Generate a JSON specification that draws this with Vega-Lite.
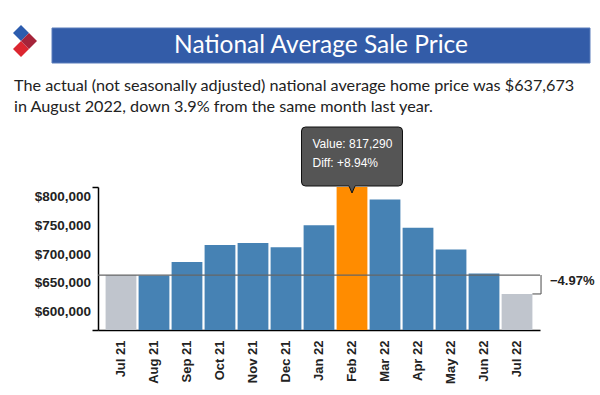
{
  "$schema": "https://vega.github.io/schema/vega-lite/v6.json",
  "width": 442,
  "height": 143,
  "autosize": {"type": "none"},
  "padding": {"left": 98, "top": 187, "right": 60, "bottom": 65},
  "background": "white",
  "config": {"view": {"stroke": null}, "axis": {"labelOverlap": false, "labelBound": false, "labelFlush": false}},
  "datasets": {
    "prices": [
      {"month": "Jul 21", "value": 663300},
      {"month": "Aug 21", "value": 662600},
      {"month": "Sep 21", "value": 686000},
      {"month": "Oct 21", "value": 716000},
      {"month": "Nov 21", "value": 719500},
      {"month": "Dec 21", "value": 712000},
      {"month": "Jan 22", "value": 750220},
      {"month": "Feb 22", "value": 817290},
      {"month": "Mar 22", "value": 795500},
      {"month": "Apr 22", "value": 746100},
      {"month": "May 22", "value": 707800},
      {"month": "Jun 22", "value": 666100},
      {"month": "Jul 22", "value": 630300}
    ],
    "change": [
      {"month": "Jul 22", "base": 663300, "value": 630300, "label": "−4.97%"}
    ],
    "highlight": [
      {"month": "Feb 22", "value": 817290, "line1": "Value: 817,290", "line2": "Diff: +8.94%"}
    ]
  },
  "layer": [
    {
      "data": {"values": [{}]},
      "mark": {"type": "rect", "x": -46, "x2": 492, "y": -159, "y2": -124, "fill": "#335ca8", "stroke": "#5b7dbb", "strokeWidth": 1},
      "encoding": {}
    },
    {
      "data": {"values": [{}]},
      "mark": {"type": "text", "x": 223, "y": -141, "text": "National Average Sale Price", "font": "Lato", "fontSize": 24.5, "color": "white", "align": "center", "baseline": "middle"},
      "encoding": {}
    },
    {
      "data": {"values": [{}]},
      "mark": {"type": "point", "x": -77, "y": -146, "shape": "M-8,-8 L0,-16 L8,-8 L0,0 Z", "size": 4, "filled": true, "fill": "#2c5cae", "opacity": 1, "strokeWidth": 0},
      "encoding": {}
    },
    {
      "data": {"values": [{}]},
      "mark": {"type": "point", "x": -77, "y": -146, "shape": "M0,0 L8,8 L0,16 L-8,8 Z", "size": 4, "filled": true, "fill": "#dc2630", "opacity": 1, "strokeWidth": 0},
      "encoding": {}
    },
    {
      "data": {"values": [{}]},
      "mark": {"type": "point", "x": -77, "y": -146, "shape": "M8,-8 L16,0 L8,8 L0,0 Z", "size": 4, "filled": true, "fill": "#a5243a", "opacity": 1, "strokeWidth": 0},
      "encoding": {}
    },
    {
      "data": {"values": [{}]},
      "mark": {"type": "text", "x": -84, "y": -96, "text": ["The actual (not seasonally adjusted) national average home price was $637,673", "in August 2022, down 3.9% from the same month last year."], "lineHeight": 20.5, "font": "Lato", "fontSize": 16.2, "color": "#222222", "align": "left", "baseline": "alphabetic"},
      "encoding": {}
    },
    {
      "data": {"values": [{}]},
      "mark": {"type": "rule", "x": -84, "x2": 478, "y": -52, "y2": -52, "color": "#999999", "strokeWidth": 1.5},
      "encoding": {}
    },
    {
      "data": {"name": "prices"},
      "mark": {"type": "bar", "clip": true},
      "encoding": {
        "x": {
          "field": "month", "type": "nominal",
          "scale": {"domain": ["Jul 21", "Aug 21", "Sep 21", "Oct 21", "Nov 21", "Dec 21", "Jan 22", "Feb 22", "Mar 22", "Apr 22", "May 22", "Jun 22", "Jul 22"], "paddingInner": 0.067, "paddingOuter": 0.23},
          "axis": {"title": null, "labelAngle": -90, "labelAlign": "right", "labelBaseline": "middle", "ticks": false, "labelPadding": 10, "labelFont": "Arial", "labelFontWeight": "bold", "labelFontSize": 13, "labelColor": "#222222", "domainColor": "#000000", "domainWidth": 1.5, "grid": false, "labelOverlap": false}
        },
        "y": {
          "field": "value", "type": "quantitative",
          "scale": {"domain": [567270, 817290], "nice": false, "zero": false},
          "axis": {
            "title": null, "grid": false, "labelOverlap": false, "tickCount": 20,
            "values": [567270, 600000, 650000, 700000, 750000, 800000, 817290],
            "labelExpr": "datum.value < 590000 || datum.value > 810000 ? '' : '$' + format(datum.value, ',')",
            "tickOpacity": {"condition": {"test": "datum.value < 590000 || datum.value > 810000", "value": 1}, "value": 0},
            "tickSize": 6, "tickColor": "#000000", "tickWidth": 1.5, "labelPadding": 1.5,
            "labelFont": "Arial", "labelFontWeight": "bold", "labelFontSize": 13.5, "labelColor": "#222222",
            "domainColor": "#000000", "domainWidth": 1.5
          }
        },
        "color": {
          "condition": [
            {"test": "datum.month == 'Feb 22'", "value": "#ff8c00"},
            {"test": "datum.month == 'Jul 21' || datum.month == 'Jul 22'", "value": "#c0c5cd"}
          ],
          "value": "#4682b4"
        }
      }
    },
    {
      "data": {"name": "change"},
      "mark": {"type": "rule", "color": "#666666", "strokeWidth": 1.2},
      "encoding": {"y": {"field": "base", "type": "quantitative"}}
    },
    {
      "data": {"name": "change"},
      "mark": {"type": "rule", "color": "#666666", "strokeWidth": 1.2},
      "encoding": {
        "x": {"field": "month", "type": "nominal", "bandPosition": 1.28},
        "y": {"field": "base", "type": "quantitative"},
        "y2": {"field": "value"}
      }
    },
    {
      "data": {"name": "change"},
      "mark": {"type": "rule", "color": "#666666", "strokeWidth": 1.2},
      "encoding": {
        "x": {"field": "month", "type": "nominal", "bandPosition": 1},
        "x2": {"field": "month", "bandPosition": 1.28},
        "y": {"field": "value", "type": "quantitative"}
      }
    },
    {
      "data": {"name": "change"},
      "mark": {"type": "text", "align": "left", "baseline": "middle", "dx": 9, "dy": 6, "font": "Arial", "fontWeight": "bold", "fontSize": 13, "color": "#222222"},
      "encoding": {
        "x": {"field": "month", "type": "nominal", "bandPosition": 1.28},
        "y": {"field": "base", "type": "quantitative"},
        "text": {"field": "label"}
      }
    },
    {
      "data": {"name": "highlight"},
      "mark": {"type": "point", "shape": "M-0.93,-1.2 L0.93,-1.2 Q1.01,-1.2 1.01,-1.12 L1.01,-0.1 Q1.01,-0.02 0.93,-0.02 L0.06,-0.02 L0,0.12 L-0.06,-0.02 L-0.93,-0.02 Q-1.01,-0.02 -1.01,-0.1 L-1.01,-1.12 Q-1.01,-1.2 -0.93,-1.2 Z", "size": 10000, "filled": true, "fill": "#555555", "stroke": "#111111", "strokeWidth": 1, "opacity": 1},
      "encoding": {
        "x": {"field": "month", "type": "nominal"},
        "y": {"field": "value", "type": "quantitative"}
      }
    },
    {
      "data": {"name": "highlight"},
      "mark": {"type": "text", "align": "left", "baseline": "middle", "dx": -39.5, "dy": -43, "font": "Arial", "fontSize": 12, "color": "white"},
      "encoding": {
        "x": {"field": "month", "type": "nominal"},
        "y": {"field": "value", "type": "quantitative"},
        "text": {"field": "line1"}
      }
    },
    {
      "data": {"name": "highlight"},
      "mark": {"type": "text", "align": "left", "baseline": "middle", "dx": -39.5, "dy": -23.7, "font": "Arial", "fontSize": 12, "color": "white"},
      "encoding": {
        "x": {"field": "month", "type": "nominal"},
        "y": {"field": "value", "type": "quantitative"},
        "text": {"field": "line2"}
      }
    }
  ]
}
